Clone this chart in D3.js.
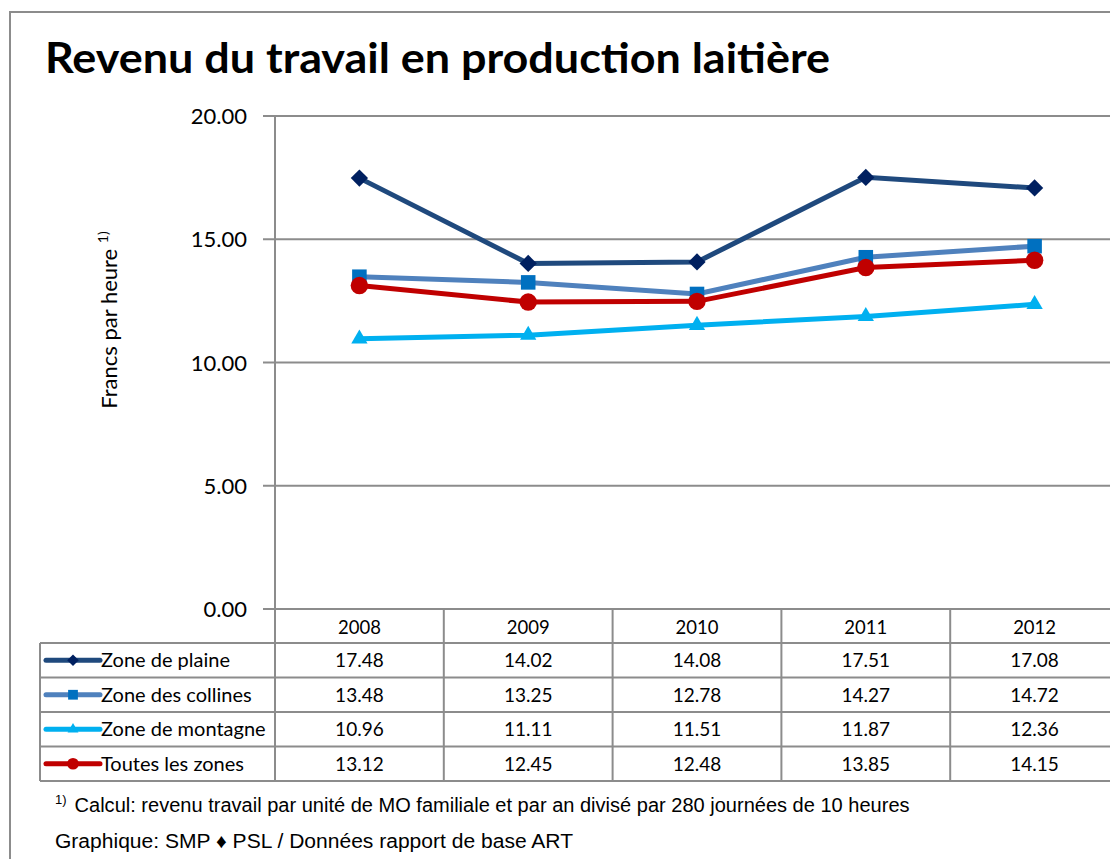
<!DOCTYPE html>
<html>
<head>
  <meta charset="utf-8">
  <title>Revenu du travail en production laitière</title>
  <script src="https://d3js.org/d3.v7.min.js"></script>
  <style>
    body { margin: 0; background: #fff; font-family: Lato, "Open Sans", sans-serif; }
    svg { display: block; }
    .grid line { stroke: #8c8c8c; stroke-width: 2px; }
    .cell { stroke: #8c8c8c; stroke-width: 2px; }
  </style>
</head>
<body>
<div id="chart"></div>
<script>
const years = ["2008", "2009", "2010", "2011", "2012"];
const seriesNames = ["Zone de plaine", "Zone des collines", "Zone de montagne", "Toutes les zones"];
const plaine = [17.48, 14.02, 14.08, 17.51, 17.08];
const collines = [13.48, 13.25, 12.78, 14.27, 14.72];
const montagne = [10.96, 11.11, 11.51, 11.87, 12.36];
const toutes = [13.12, 12.45, 12.48, 13.85, 14.15];
const yTicks = [0, 5, 10, 15, 20];

const series = [
  { name: seriesNames[0], values: plaine,   line: "#1f497d", mark: "#002060", shape: d3.symbolDiamond2, size: 190 },
  { name: seriesNames[1], values: collines, line: "#4f81bd", mark: "#0070c0", shape: d3.symbolSquare2, size: 270 },
  { name: seriesNames[2], values: montagne, line: "#00b0f0", mark: "#00b0f0", shape: d3.symbolTriangle2, size: 190 },
  { name: seriesNames[3], values: toutes,   line: "#c00000", mark: "#c00000", shape: d3.symbolCircle, size: 240 }
];

const width = 1110, height = 859;
const svg = d3.select("#chart").append("svg")
  .attr("width", width)
  .attr("height", height);

// outer frame
svg.append("rect")
  .attr("x", 10).attr("y", 12)
  .attr("width", 1200).attr("height", 900)
  .attr("fill", "none").attr("stroke", "#8c8c8c").attr("stroke-width", 2);

svg.append("text")
  .attr("x", 45).attr("y", 73)
  .attr("font-size", 42).attr("font-weight", "bold")
  .attr("textLength", 785).attr("lengthAdjust", "spacingAndGlyphs")
  .text("Revenu du travail en production laitière");

const x = d3.scaleBand().domain(years).range([275, 1119]);
const y = d3.scaleLinear().domain([0, 20]).range([609, 116]);

// gridlines + ticks
const grid = svg.append("g").attr("class", "grid");
grid.selectAll("line").data(yTicks).enter().append("line")
  .attr("x1", 263).attr("x2", 1119)
  .attr("y1", d => y(d)).attr("y2", d => y(d));

svg.append("g").selectAll("text").data(yTicks).enter().append("text")
  .attr("x", 247).attr("y", d => y(d) + 8)
  .attr("text-anchor", "end").attr("font-size", 22)
  .text(d => d3.format(".2f")(d));

// y axis line
svg.append("line").attr("class", "cell")
  .attr("x1", 275).attr("x2", 275).attr("y1", 116).attr("y2", 781);

// axis title
const yt = svg.append("text")
  .attr("transform", "translate(117,320) rotate(-90)")
  .attr("text-anchor", "middle").attr("font-size", 22);
yt.append("tspan").text("Francs par heure ");
yt.append("tspan").attr("font-size", 14).attr("dy", -9).text("1)");

// data table
const rowTop = 643, rowH = 34.5;
const table = svg.append("g");
// vertical cell borders
table.selectAll("line.v").data(years).enter().append("line")
  .attr("class", "cell")
  .attr("x1", d => x(d) + x.bandwidth()).attr("x2", d => x(d) + x.bandwidth())
  .attr("y1", 609).attr("y2", rowTop + rowH * 4);
table.append("line").attr("class", "cell")
  .attr("x1", 40).attr("x2", 40).attr("y1", rowTop).attr("y2", rowTop + rowH * 4);
// horizontal rows
table.selectAll("line.h").data(d3.range(5)).enter().append("line")
  .attr("class", "cell")
  .attr("x1", 40).attr("x2", 1119)
  .attr("y1", i => rowTop + i * rowH).attr("y2", i => rowTop + i * rowH);

table.selectAll("text.year").data(years).enter().append("text")
  .attr("x", d => x(d) + x.bandwidth() / 2).attr("y", 634)
  .attr("text-anchor", "middle").attr("font-size", 18.5)
  .text(d => d);

series.forEach((s, i) => {
  const cy = rowTop + i * rowH + rowH / 2;
  table.append("line")
    .attr("x1", 46).attr("x2", 100).attr("y1", cy).attr("y2", cy)
    .attr("stroke", s.line).attr("stroke-width", 5).attr("stroke-linecap", "round");
  table.append("path")
    .attr("d", d3.symbol().type(s.shape).size(s.size * 0.45)())
    .attr("transform", `translate(73,${cy})`)
    .attr("fill", s.mark);
  table.append("text")
    .attr("x", 101).attr("y", cy + 7).attr("font-size", 20)
    .text(s.name);
  table.selectAll(null).data(s.values).enter().append("text")
    .attr("x", (d, j) => x(years[j]) + x.bandwidth() / 2).attr("y", cy + 7)
    .attr("text-anchor", "middle").attr("font-size", 19)
    .text(d => d3.format(".2f")(d));
});

// lines
const line = d3.line()
  .x((d, j) => x(years[j]) + x.bandwidth() / 2)
  .y(d => y(d));

series.forEach(s => {
  svg.append("path")
    .datum(s.values)
    .attr("d", line)
    .attr("fill", "none").attr("stroke", s.line).attr("stroke-width", 5);
  svg.append("g").selectAll("path").data(s.values).enter().append("path")
    .attr("d", d3.symbol().type(s.shape).size(s.size)())
    .attr("transform", (d, j) => `translate(${x(years[j]) + x.bandwidth() / 2},${y(d)})`)
    .attr("fill", s.mark);
});

// footnotes
const fn = svg.append("text")
  .attr("x", 55).attr("y", 812)
  .attr("font-family", "'Liberation Sans Narrow', 'Arial Narrow', 'Liberation Sans', sans-serif")
  .attr("font-size", 20);
fn.append("tspan").attr("font-size", 13).attr("dy", -8).text("1)");
fn.append("tspan").attr("dy", 8).attr("dx", 8)
  .attr("textLength", 835).attr("lengthAdjust", "spacingAndGlyphs")
  .text("Calcul: revenu travail par unité de MO familiale et par an divisé par  280 journées  de 10 heures");

svg.append("text")
  .attr("x", 55).attr("y", 848)
  .attr("font-family", "'Liberation Sans Narrow', 'Arial Narrow', 'Liberation Sans', sans-serif")
  .attr("font-size", 20)
  .attr("textLength", 518).attr("lengthAdjust", "spacingAndGlyphs")
  .text("Graphique: SMP ♦ PSL  /  Données  rapport de base ART");
</script>
</body>
</html>
